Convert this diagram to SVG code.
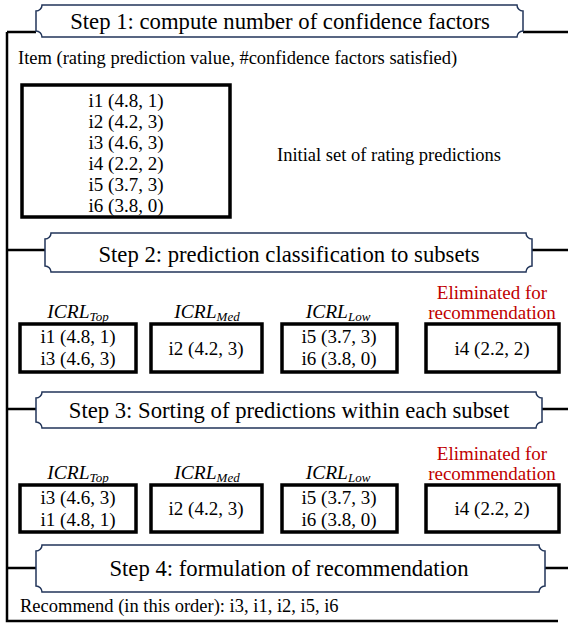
<svg xmlns="http://www.w3.org/2000/svg" width="568" height="623" viewBox="0 0 568 623">
  <style>
    text { font-family: "Liberation Serif", "Times New Roman", serif; fill: #000; }
    .step { font-size: 22.7px; text-anchor: middle; }
    .plaque { fill: #fff; stroke: #22355a; stroke-width: 1.5; }
    .rail { fill: none; stroke: #000; stroke-width: 2.5; }
    .box { fill: #fff; stroke: #000; stroke-width: 3.5; }
    .item { font-size: 19px; text-anchor: middle; }
    .note { font-size: 18.5px; }
    .lbl { font-size: 19.5px; font-style: italic; text-anchor: middle; }
    .sub { font-size: 13px; }
    .elim { font-size: 19px; text-anchor: middle; fill: #c00000; }
  </style>

  <!-- frame connectors: left rail, bottom rail and header links -->
  <g id="connectors">
    <path class="rail" d="M7,32 V621 H558"/>
    <path class="rail" d="M7,32 H36 M523,32 H568"/>
    <path class="rail" d="M7,250 H45 M532,250 H568"/>
    <path class="rail" d="M7,409 H36 M542,409 H568"/>
    <path class="rail" d="M7,568 H36 M545,568 H568"/>
  </g>

  <!-- step headers (plaque shapes with concave corners) -->
  <g id="step1">
    <path class="plaque" d="M42,5 H517 A6 6 0 0 0 523,11 V31 A6 6 0 0 0 517,37 H42 A6 6 0 0 0 36,31 V11 A6 6 0 0 0 42,5 Z"/>
    <text class="step" x="280" y="29">Step 1: compute number of confidence factors</text>
  </g>
  <g id="step2">
    <path class="plaque" d="M51,233 H526 A6 6 0 0 0 532,239 V266 A6 6 0 0 0 526,272 H51 A6 6 0 0 0 45,266 V239 A6 6 0 0 0 51,233 Z"/>
    <text class="step" x="289" y="262">Step 2: prediction classification to subsets</text>
  </g>
  <g id="step3">
    <path class="plaque" d="M42,392 H536 A6 6 0 0 0 542,398 V422 A6 6 0 0 0 536,428 H42 A6 6 0 0 0 36,422 V398 A6 6 0 0 0 42,392 Z"/>
    <text class="step" x="289" y="418">Step 3: Sorting of predictions within each subset</text>
  </g>
  <g id="step4">
    <path class="plaque" d="M42,545 H539 A6 6 0 0 0 545,551 V586 A6 6 0 0 0 539,592 H42 A6 6 0 0 0 36,586 V551 A6 6 0 0 0 42,545 Z"/>
    <text class="step" x="289" y="576">Step 4: formulation of recommendation</text>
  </g>

  <!-- step 1 content -->
  <g id="legend">
    <text class="note" x="18" y="64">Item (rating prediction value, #confidence factors satisfied)</text>
  </g>
  <g id="initial-set">
    <rect class="box" x="22" y="85" width="208" height="132"/>
    <text class="item" x="126" y="107">i1 (4.8, 1)</text>
    <text class="item" x="126" y="128">i2 (4.2, 3)</text>
    <text class="item" x="126" y="149">i3 (4.6, 3)</text>
    <text class="item" x="126" y="170">i4 (2.2, 2)</text>
    <text class="item" x="126" y="191">i5 (3.7, 3)</text>
    <text class="item" x="126" y="212">i6 (3.8, 0)</text>
  </g>
  <g id="initial-caption">
    <text class="note" x="389" y="161" text-anchor="middle">Initial set of rating predictions</text>
  </g>

  <!-- step 2 subsets -->
  <g id="s2-top">
    <text class="lbl" x="78" y="318">ICRL<tspan class="sub" dy="3">Top</tspan></text>
    <rect class="box" x="20" y="324" width="116" height="48"/>
    <text class="item" x="78" y="343">i1 (4.8, 1)</text>
    <text class="item" x="78" y="365">i3 (4.6, 3)</text>
  </g>
  <g id="s2-med">
    <text class="lbl" x="207" y="318">ICRL<tspan class="sub" dy="3">Med</tspan></text>
    <rect class="box" x="151" y="324" width="111" height="48"/>
    <text class="item" x="206" y="355">i2 (4.2, 3)</text>
  </g>
  <g id="s2-low">
    <text class="lbl" x="338" y="318">ICRL<tspan class="sub" dy="3">Low</tspan></text>
    <rect class="box" x="282" y="324" width="115" height="48"/>
    <text class="item" x="339" y="343">i5 (3.7, 3)</text>
    <text class="item" x="339" y="365">i6 (3.8, 0)</text>
  </g>
  <g id="s2-elim">
    <text class="elim" x="492" y="299">Eliminated for</text>
    <text class="elim" x="492" y="319">recommendation</text>
    <rect class="box" x="426" y="324" width="133" height="48"/>
    <text class="item" x="492" y="355">i4 (2.2, 2)</text>
  </g>

  <!-- step 3 sorted subsets -->
  <g id="s3-top">
    <text class="lbl" x="78" y="479">ICRL<tspan class="sub" dy="3">Top</tspan></text>
    <rect class="box" x="20" y="485" width="116" height="47"/>
    <text class="item" x="78" y="504">i3 (4.6, 3)</text>
    <text class="item" x="78" y="526">i1 (4.8, 1)</text>
  </g>
  <g id="s3-med">
    <text class="lbl" x="207" y="479">ICRL<tspan class="sub" dy="3">Med</tspan></text>
    <rect class="box" x="151" y="485" width="111" height="47"/>
    <text class="item" x="206" y="515">i2 (4.2, 3)</text>
  </g>
  <g id="s3-low">
    <text class="lbl" x="338" y="479">ICRL<tspan class="sub" dy="3">Low</tspan></text>
    <rect class="box" x="282" y="485" width="115" height="47"/>
    <text class="item" x="339" y="504">i5 (3.7, 3)</text>
    <text class="item" x="339" y="526">i6 (3.8, 0)</text>
  </g>
  <g id="s3-elim">
    <text class="elim" x="492" y="460">Eliminated for</text>
    <text class="elim" x="492" y="480">recommendation</text>
    <rect class="box" x="426" y="485" width="133" height="47"/>
    <text class="item" x="492" y="515">i4 (2.2, 2)</text>
  </g>

  <!-- step 4 result -->
  <g id="result">
    <text class="note" x="20" y="612">Recommend (in this order): i3, i1, i2, i5, i6</text>
  </g>
</svg>
